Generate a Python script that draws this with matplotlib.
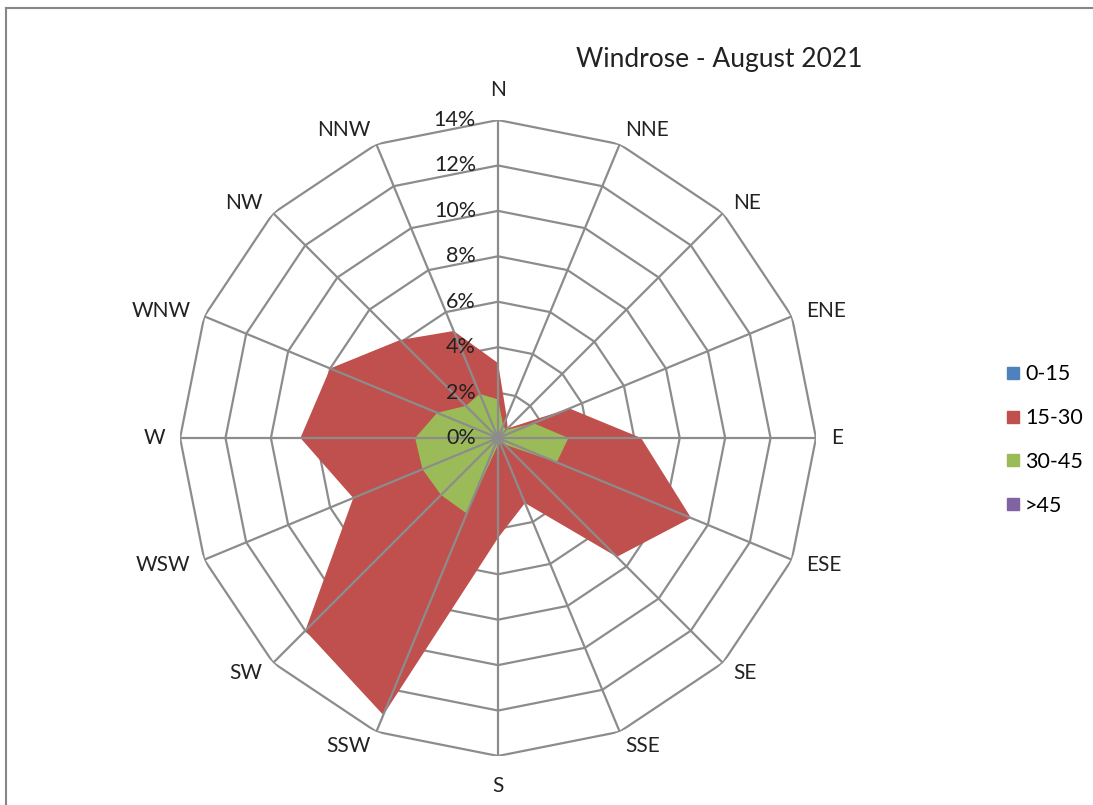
import numpy as np
import matplotlib
matplotlib.use("Agg")
import matplotlib.pyplot as plt
import matplotlib.transforms as mtransforms
from matplotlib.lines import Line2D

plt.rcParams['font.family'] = ['Lato', 'DejaVu Sans']

# wind directions (clockwise from north)
directions = ["N", "NNE", "NE", "ENE", "E", "ESE", "SE", "SSE",
              "S", "SSW", "SW", "WSW", "W", "WNW", "NW", "NNW"]

# share of time per speed class (%)
speed_0_15 = [0, 0, 0, 0, 0, 0, 0, 0, 0, 0, 0, 0, 0, 0, 0, 0]
speed_15_30 = [3.3, 1.0, 0.6, 3.4, 6.3, 9.2, 7.4, 3.1,
               4.4, 13.2, 12.0, 6.9, 8.7, 8.0, 6.1, 5.1]
speed_30_45 = [1.7, 0.6, 0.5, 1.7, 3.1, 2.8, 0.4, 0.2,
               0.3, 3.6, 3.55, 3.6, 3.65, 2.9, 2.0, 2.1]
speed_45_up = [0, 0, 0, 0, 0, 0, 0, 0, 0, 0, 0, 0, 0, 0, 0, 0]

series_labels = ["0-15", "15-30", "30-45", ">45"]
series_colors = ["#4F81BD", "#C0504D", "#9BBB59", "#8064A2"]

ring_levels = [2, 4, 6, 8, 10, 12, 14]
tick_levels = [0, 2, 4, 6, 8, 10, 12, 14]

grid_color = "#8C8C8C"
text_color = "#222222"

fig = plt.figure(figsize=(10.93, 8.05), dpi=100)
ax = fig.add_axes([0.1647, 0.0609, 0.5819, 0.790], projection="polar")
ax.set_theta_zero_location("N")
ax.set_theta_direction(-1)
ax.set_ylim(0, 14)
ax.grid(False)
ax.spines["polar"].set_visible(False)
ax.set_xticks([])
ax.set_yticks([])
ax.patch.set_alpha(0)

theta = np.deg2rad(np.arange(len(directions)) * 360.0 / len(directions))
theta_c = np.append(theta, theta[0])

def closed(vals):
    return np.append(vals, vals[0])

# ring gridlines (under the fills)
for lvl in ring_levels:
    ax.plot(theta_c, [lvl] * len(theta_c), color=grid_color, lw=1.6, zorder=1)

# filled series
handles = []
for vals, col, lab in zip([speed_0_15, speed_15_30, speed_30_45, speed_45_up],
                          series_colors, series_labels):
    ax.fill(theta_c, closed(vals), color=col, lw=0, zorder=2)
    handles.append(Line2D([], [], marker="s", ls="", color=col,
                          markersize=8, label=lab))

# spokes on top
for t in theta:
    ax.plot([t, t], [0, 14], color=grid_color, lw=1.6, zorder=3)

# direction labels, anchored on the side facing the chart
for t, name in zip(theta, directions):
    s = np.sin(t)
    if abs(s) < 0.1:
        ax.text(t, 15.3, name, ha="center", va="center", fontsize=15,
                color=text_color)
    else:
        ax.text(t, 14.66, name, ha="left" if s > 0 else "right",
                va="center", fontsize=15, color=text_color)

# value labels left of the N spoke
off = mtransforms.offset_copy(ax.transData, fig=fig, x=-22, y=0, units="dots")
for lvl in tick_levels:
    ax.text(0, lvl, f"{lvl}%", transform=off, ha="right", va="center",
            fontsize=15.5, color=text_color, zorder=5)

fig.text(719 / 1093, 1 - 60 / 805, "Windrose - August 2021", ha="center",
         va="center", fontsize=19, color=text_color)

fig.legend(handles=handles, loc="center left",
           bbox_to_anchor=(983 / 1093, 1 - 440 / 805), frameon=False,
           fontsize=15.5, handletextpad=0.05, labelspacing=1.1,
           handlelength=1.0)

# chart area border
fig.add_artist(Line2D([6 / 1093, 6 / 1093], [0, 1 - 8 / 805],
                      transform=fig.transFigure, color="#868686", lw=1.5))
fig.add_artist(Line2D([6 / 1093, 1], [1 - 8 / 805, 1 - 8 / 805],
                      transform=fig.transFigure, color="#868686", lw=1.5))

fig.savefig("out.png", dpi=100)
